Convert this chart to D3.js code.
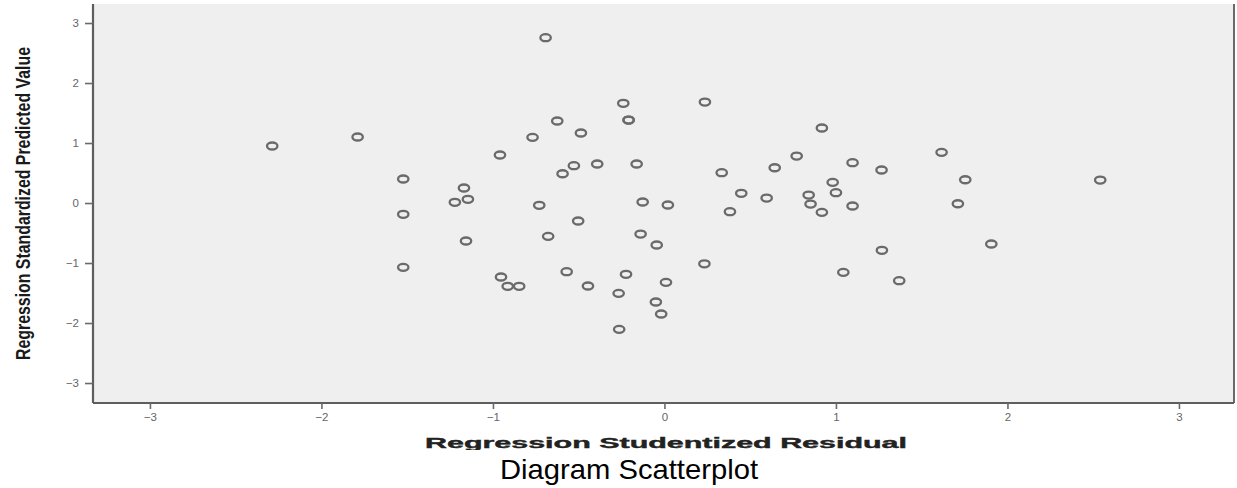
<!DOCTYPE html>
<html>
<head>
<meta charset="utf-8">
<script src="https://cdn.jsdelivr.net/npm/d3@7"></script>
<style>
  html, body { margin: 0; padding: 0; background: #ffffff; }
  svg { display: block; }
</style>
</head>
<body>
<svg id="chart" width="1237" height="488"></svg>
<script>
// Regression Studentized Residual (x)
const residuals = [
  -2.287, -1.789, -0.693, -1.523, -1.523, -1.523, -1.169, -1.222, -1.146, -1.157,
  -0.959, -0.769, -0.625, -0.487, -0.528, -0.594, -0.392, -0.240, -0.209, -0.209,
  -0.162, 0.236, -0.730, -0.503, -0.678, -0.127, 0.020, -0.139, -0.045, -0.953,
  -0.914, -0.847, -0.570, -0.446, -0.224, -0.267, 0.009, -0.050, -0.019, -0.264,
  0.233, 0.334, 0.448, 0.382, 0.643, 0.596, 0.771, 0.918, 0.841, 0.852,
  0.918, 0.981, 1.000, 1.097, 1.097, 1.043, 1.266, 1.268, 1.369, 1.616,
  1.754, 1.711, 1.906, 2.541
];
// Regression Standardized Predicted Value (y)
const predicted = [
  0.950, 1.100, 2.755, 0.400, -0.188, -1.072, 0.250, 0.012, 0.062, -0.633,
  0.800, 1.095, 1.367, 1.167, 0.622, 0.488, 0.650, 1.662, 1.383, 1.383,
  0.650, 1.683, -0.038, -0.300, -0.555, 0.017, -0.033, -0.517, -0.700, -1.233,
  -1.388, -1.388, -1.145, -1.383, -1.188, -1.505, -1.322, -1.650, -1.850, -2.105,
  -1.013, 0.505, 0.162, -0.145, 0.588, 0.083, 0.783, 1.250, 0.133, -0.017,
  -0.155, 0.345, 0.172, 0.672, -0.050, -1.155, 0.550, -0.788, -1.295, 0.845,
  0.388, -0.012, -0.683, 0.383
];
const xTickValues = [-3, -2, -1, 0, 1, 2, 3];
const yTickValues = [-3, -2, -1, 0, 1, 2, 3];
const xTitle = "Regression Studentized Residual";
const yTitle = "Regression Standardized Predicted Value";
const caption = "Diagram Scatterplot";

const svg = d3.select("#chart");
const plotL = 93, plotR = 1234, plotT = 4, plotB = 403;

const x = d3.scaleLinear().domain([-3.332, 3.321]).range([plotL, plotR]);
const y = d3.scaleLinear().domain([-3.333, 3.317]).range([plotB, plotT]);

// plot background
svg.append("rect")
  .attr("x", plotL).attr("y", plotT)
  .attr("width", plotR - plotL).attr("height", plotB - plotT)
  .attr("fill", "#efefef");

// right border
svg.append("line")
  .attr("x1", plotR).attr("x2", plotR)
  .attr("y1", plotT).attr("y2", plotB)
  .attr("stroke", "#6a6a6a").attr("stroke-width", 2);

// axes
const xAxis = d3.axisBottom(x).tickValues(xTickValues).tickSize(6).tickPadding(4)
  .tickFormat(d3.format("d"));
const yAxis = d3.axisLeft(y).tickValues(yTickValues).tickSize(8).tickPadding(6)
  .tickFormat(d3.format("d"));

const gx = svg.append("g").attr("transform", `translate(0,${plotB})`).call(xAxis);
const gy = svg.append("g").attr("transform", `translate(${plotL},0)`).call(yAxis);

[gx, gy].forEach(g => {
  g.select(".domain").attr("stroke", "#5e5e5e").attr("stroke-width", 2.2);
  g.selectAll(".tick line").attr("stroke", "#6a6a6a").attr("stroke-width", 1.6);
  g.selectAll(".tick text")
    .attr("fill", "#666")
    .attr("font-family", "Liberation Sans, Arial, sans-serif")
    .attr("font-size", 11.5);
});
gx.select(".domain").attr("d", `M${plotL},0H${plotR}`);
gy.select(".domain").attr("d", `M0,${plotT}V${plotB}`);

// points
svg.append("g")
  .selectAll("ellipse")
  .data(residuals.map((r, i) => ({ r, p: predicted[i] })))
  .join("ellipse")
  .attr("cx", d => x(d.r))
  .attr("cy", d => y(d.p))
  .attr("rx", 5.2)
  .attr("ry", 3.5)
  .attr("fill", "none")
  .attr("stroke", "#6a6a6a")
  .attr("stroke-width", 2.3);

// y title (rotated, condensed bold) - condensed via a horizontal scale
const yTitleEl = svg.append("text")
  .attr("text-anchor", "middle")
  .attr("font-family", "Liberation Sans, Arial, sans-serif")
  .attr("font-weight", "bold")
  .attr("font-size", 21)
  .attr("fill", "#1a1a1a")
  .text(yTitle);
const yLen = yTitleEl.node().getComputedTextLength();
const ySx = 313 / yLen;
yTitleEl.attr("transform", `translate(30,203.5) rotate(-90) scale(${ySx},1)`);

// x title (wide bold, clipped bottom)
svg.append("clipPath").attr("id", "xclip")
  .append("rect").attr("x", 0).attr("y", 425).attr("width", 1237).attr("height", 25);
svg.append("text")
  .attr("clip-path", "url(#xclip)")
  .attr("x", 666).attr("y", 448)
  .attr("text-anchor", "middle")
  .attr("font-family", "Liberation Sans, Arial, sans-serif")
  .attr("font-weight", "bold")
  .attr("font-size", 15)
  .attr("fill", "#222")
  .attr("stroke", "#222")
  .attr("stroke-width", 0.4)
  .attr("textLength", 482)
  .attr("lengthAdjust", "spacingAndGlyphs")
  .text(xTitle);

// caption
svg.append("text")
  .attr("x", 629).attr("y", 479)
  .attr("text-anchor", "middle")
  .attr("font-family", "Liberation Sans, Arial, sans-serif")
  .attr("font-size", 28)
  .attr("fill", "#000")
  .attr("textLength", 258)
  .attr("lengthAdjust", "spacingAndGlyphs")
  .text(caption);
</script>
</body>
</html>
